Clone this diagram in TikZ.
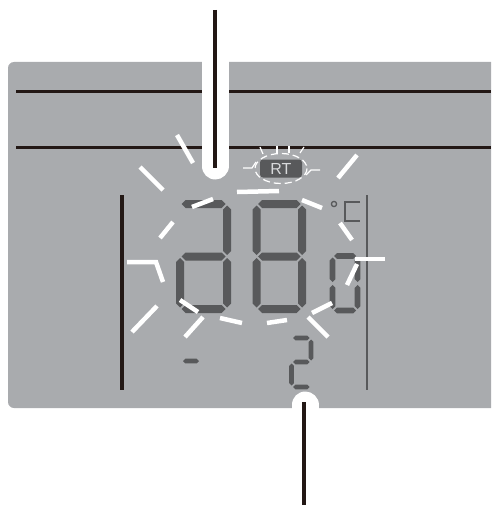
\documentclass[tikz,border=0pt]{standalone}
\usepackage{fontspec}
\setsansfont{Liberation Sans}
\definecolor{panel}{HTML}{A9ABAE}
\definecolor{lcd}{HTML}{58595B}
\definecolor{ink}{HTML}{231815}
% one LCD segment: ends x1,x2 (or y1,y2), centre line, half width
\newcommand{\hseg}[4]{\fill[seg] ({#1},{#3}) -- ({#1+#4},{#3-#4}) -- ({#2-#4},{#3-#4}) -- ({#2},{#3}) -- ({#2-#4},{#3+#4}) -- ({#1+#4},{#3+#4}) -- cycle;}
\newcommand{\vseg}[4]{\fill[seg] ({#1},{#2}) -- ({#1+#4},{#2+#4}) -- ({#1+#4},{#3-#4}) -- ({#1},{#3}) -- ({#1-#4},{#3-#4}) -- ({#1-#4},{#2+#4}) -- cycle;}
% seven segments a..g, args: left right top mid bottom halfwidth
\newcommand{\lcda}[6]{\hseg{#1+1.5}{#2-1.5}{#3}{#6}}
\newcommand{\lcdb}[6]{\vseg{#2}{#3+1.5}{#4-1.5}{#6}}
\newcommand{\lcdc}[6]{\vseg{#2}{#4+1.5}{#5-1.5}{#6}}
\newcommand{\lcdd}[6]{\hseg{#1+1.5}{#2-1.5}{#5}{#6}}
\newcommand{\lcde}[6]{\vseg{#1}{#4+1.5}{#5-1.5}{#6}}
\newcommand{\lcdf}[6]{\vseg{#1}{#3+1.5}{#4-1.5}{#6}}
\newcommand{\lcdg}[6]{\hseg{#1+1.5}{#2-1.5}{#4}{#6}}
\newcommand{\digit}[7]{\foreach \s in {#7}{\csname lcd\s\endcsname{#1}{#2}{#3}{#4}{#5}{#6}}}
\begin{document}
\begin{tikzpicture}[x=1pt, y=-1pt, seg/.style={fill=lcd}, flash/.style={white,line width=4.5pt}, spark/.style={white,line width=1.2pt}, lead/.style={ink,line width=4.5pt}, gap/.style={white,line width=27pt,line cap=round}, rtbox/.style={fill=lcd,rounded corners=3pt,minimum width=42pt,minimum height=18pt,inner sep=0pt,text=panel!45!white,font=\sffamily\fontsize{16}{16}\selectfont}]
\useasboundingbox (0,0) rectangle (491,505);
\clip (0,0) rectangle (491,505);
% panel
\fill[panel,rounded corners=6pt] (8,62) rectangle (530,408);
\draw[ink,line width=3pt] (16,92) -- (491,92) (16,148) -- (491,148);
\draw[ink,line width=3.2pt] (122,195) -- (122,390);
\draw[lcd,line width=2.2pt] (367,195) -- (367,390);
% digits
\digit{180}{227}{204}{256.5}{309}{4}{a,b,c,d,e,g}
\digit{256.5}{302}{204}{256.5}{309}{4}{a,b,c,d,e,f,g}
\digit{332.5}{357.5}{256}{283.5}{310.5}{2.8}{a,b,c,d,e,f}
\digit{291.5}{311}{338}{362}{387}{2.3}{a,b,g,e,d}
\hseg{183}{199}{361}{2.3}
\draw[lcd,line width=1.3pt] (334,204) circle (2.6);
\draw[lcd,line width=2.6pt] (360,202) -- (345,202) -- (345,221) -- (360,221);
% RT mark
\node[rtbox] (rt) at (281,168.5) {RT};
\draw[spark,dash pattern=on 7pt off 4pt] (rt.center) ellipse (26 and 15);
\foreach \xa/\ya/\xb/\yb in {260/147/263/154, 277/146/277/153, 289/146/289/153, 304/147/300/153}
  \draw[spark] (\xa,\ya) -- (\xb,\yb);
\draw[spark] (243,168) -- (252,168) -- (256,162);
\draw[spark] (320,170) -- (311,170) -- (306,175);
% blinking strokes
\foreach \xa/\ya/\xb/\yb in {140/167/163/190, 177/135/193/163, 357/155/338/178, 132/332/157/306, 185/337/203/317, 308/317/328/337,
  192/207/213/199, 160/238/173/222, 237/192/279/191, 302/200/322/208, 340/223/352/240, 312/313/332/303, 267/323/287/320, 220/318/242/323, 180/300/198/312}
  \draw[flash] (\xa,\ya) -- (\xb,\yb);
\draw[flash] (127,262) -- (156,262) -- (163,282);
\draw[flash] (385,259) -- (355,259);
\draw[flash] (357,264) -- (347,285);
% leaders
\draw[gap] (215,40) -- (215,166);
\draw[gap] (305,405) -- (305,430);
\coordinate (topend) at (215,10);
\coordinate (topmark) at (215,168);
\coordinate (botend) at (304,505);
\coordinate (botmark) at (304,402);
\draw[lead] (topend) -- (topmark);
\draw[lead] (botend) -- (botmark);
\end{tikzpicture}
\end{document}
